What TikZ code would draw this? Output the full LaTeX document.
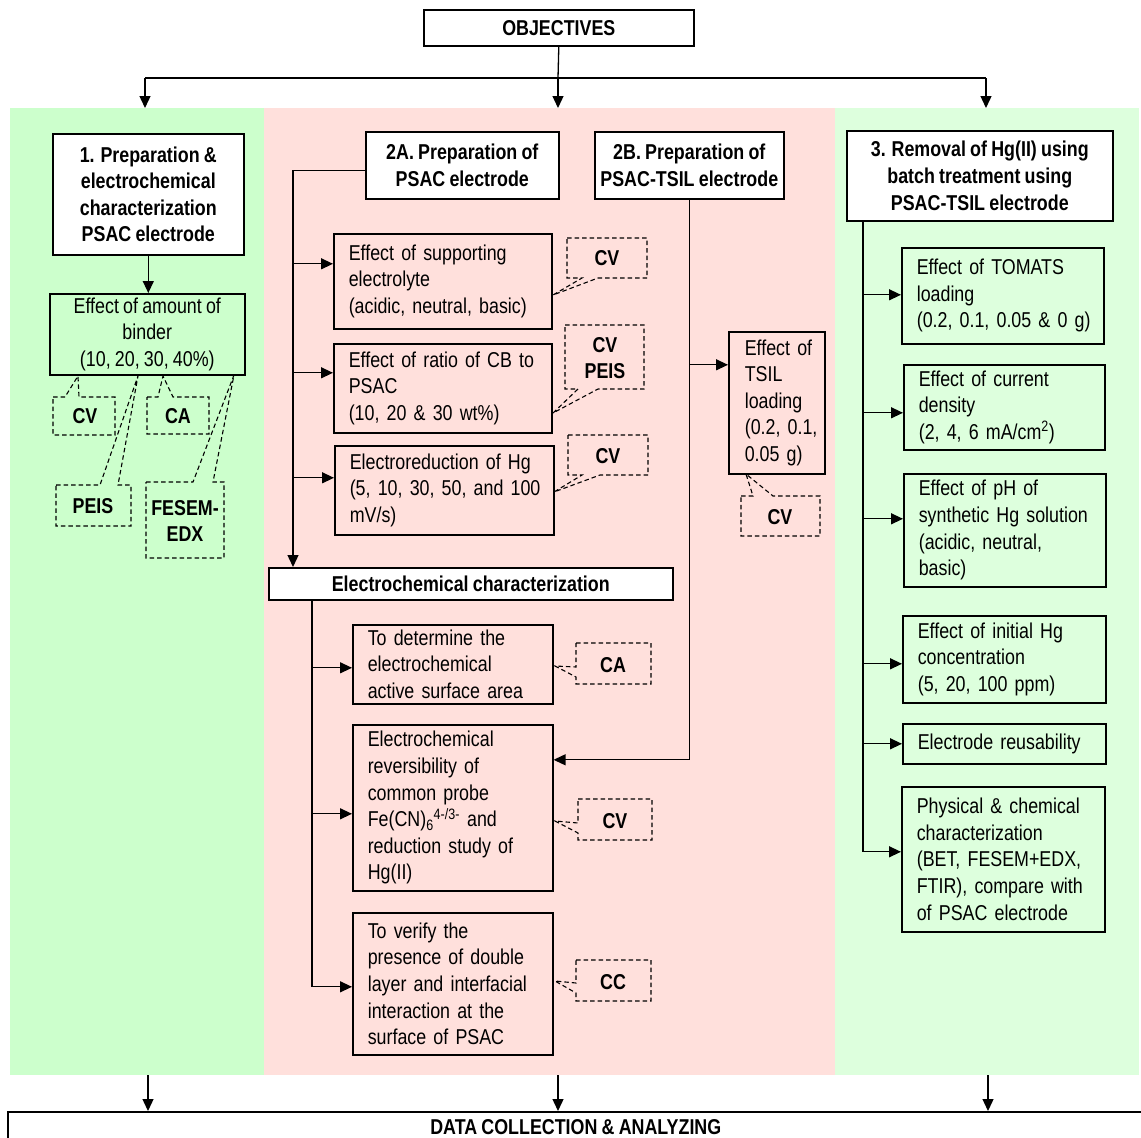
\documentclass[tikz,border=0pt]{standalone}
\usepackage{fontspec}
\setmainfont{Liberation Sans}[FakeStretch=0.83, WordSpace=0.85]
\usetikzlibrary{arrows.meta}
\definecolor{gL}{RGB}{204,255,204}
\definecolor{gR}{RGB}{221,255,221}
\definecolor{pk}{RGB}{255,224,220}
\newcommand\fsz{\fontsize{21.5pt}{26.6pt}\selectfont}
\newcommand\mlin[1]{\mbox{#1}}
\begin{document}
\begin{tikzpicture}[x=1pt,y=-1pt,
  panel/.style={anchor=north west, inner sep=0pt, draw=none},
  bx/.style={draw, line width=1.6pt, anchor=north west, inner sep=0pt, font=\fsz},
  hdr/.style={bx, fill=white, align=center, font=\fsz\bfseries},
  lbx/.style={bx, align=left},
  cbx/.style={bx, align=center},
  sz/.style 2 args={minimum width=#1pt, minimum height=#2pt},
  tw/.style={text width=#1pt},
  ln/.style={line width=1.3pt},
  arr/.style={ln, -{Triangle[length=12pt,width=11pt]}},
  co/.style={draw, line width=1.1pt, dash pattern=on 4.5pt off 3pt},
  cot/.style={font=\fsz\bfseries, align=center, inner sep=0pt},
]
\useasboundingbox (0,0) rectangle (1141,1138);
\fill[white] (0,0) rectangle (1141,1138);
% panels
\node[panel, fill=gL, sz={254}{967}] (pL) at (10,108) {};
\node[panel, fill=pk, sz={571}{967}] (pM) at (264,108) {};
\node[panel, fill=gR, sz={304}{967}] (pR) at (835,108) {};
% headers
\node[hdr, sz={270}{36}] (obj) at (423,9) {OBJECTIVES};
\node[hdr, sz={191}{121}] (b1) at (52,133) {1. Preparation \&\\electrochemical\\characterization\\PSAC electrode};
\node[cbx, fill=gL, sz={195}{81}] (bind) at (49,293) {Effect of amount of\\binder\\(10, 20, 30, 40\%)};
\node[hdr, sz={193}{67}] (a2) at (365,131) {2A. Preparation of\\PSAC electrode};
\node[hdr, sz={189}{67}] (b2) at (594,131) {2B. Preparation of\\PSAC-TSIL electrode};
\node[hdr, sz={266}{90}] (b3) at (846,130) {3. Removal of Hg(II) using\\batch treatment using\\PSAC-TSIL electrode};
% middle column
\node[lbx, fill=pk, sz={218}{95}, tw=188] (sup) at (333,233) {\mlin{Effect of supporting}\\\mlin{electrolyte}\\\mlin{(acidic, neutral, basic)}};
\node[lbx, fill=pk, sz={218}{89}, tw=188] (cb) at (333,343) {\mlin{Effect of ratio of CB to}\\\mlin{PSAC}\\\mlin{(10, 20 \& 30 wt\%)}};
\node[lbx, fill=pk, sz={219}{89}, tw=189] (er) at (334,445) {\mlin{Electroreduction of Hg}\\\mlin{(5, 10, 30, 50, and 100}\\\mlin{mV/s)}};
\node[lbx, fill=pk, sz={96}{142}, tw=64] (tsil) at (728,331) {\mlin{Effect of}\\\mlin{TSIL}\\\mlin{loading}\\\mlin{(0.2, 0.1,}\\\mlin{0.05 g)}};
\node[hdr, sz={404}{32}] (ec) at (268,567) {Electrochemical characterization};
\node[lbx, fill=pk, sz={200}{79}, tw=170] (det) at (352,624) {\mlin{To determine the}\\\mlin{electrochemical}\\\mlin{active surface area}};
\node[lbx, fill=pk, sz={200}{166}, tw=170] (rev) at (352,724) {\mlin{Electrochemical}\\\mlin{reversibility of}\\\mlin{common probe}\\\mlin{Fe(CN)\textsubscript{6}\textsuperscript{4-/3-} and}\\\mlin{reduction study of}\\\mlin{Hg(II)}};
\node[lbx, fill=pk, sz={200}{142}, tw=170] (ver) at (352,912) {\mlin{To verify the}\\\mlin{presence of double}\\\mlin{layer and interfacial}\\\mlin{interaction at the}\\\mlin{surface of PSAC}};
% right column
\node[lbx, fill=gR, sz={202}{96}, tw=172] (tom) at (901,247) {\mlin{Effect of TOMATS}\\\mlin{loading}\\\mlin{(0.2, 0.1, 0.05 \& 0 g)}};
\node[lbx, fill=gR, sz={201}{85}, tw=171] (cur) at (903,364) {\mlin{Effect of current}\\\mlin{density}\\\mlin{(2, 4, 6 mA/cm\textsuperscript{2})}};
\node[lbx, fill=gR, sz={202}{113}, tw=172] (ph) at (903,473) {\mlin{Effect of pH of}\\\mlin{synthetic Hg solution}\\\mlin{(acidic, neutral,}\\\mlin{basic)}};
\node[lbx, fill=gR, sz={203}{87}, tw=173] (ini) at (902,615) {\mlin{Effect of initial Hg}\\\mlin{concentration}\\\mlin{(5, 20, 100 ppm)}};
\node[lbx, fill=gR, sz={203}{40}, tw=173] (reu) at (902,723) {\mlin{Electrode reusability}};
\node[lbx, fill=gR, sz={203}{145}, tw=173] (phy) at (901,786) {\mlin{Physical \& chemical}\\\mlin{characterization}\\\mlin{(BET, FESEM+EDX,}\\\mlin{FTIR), compare with}\\\mlin{of PSAC electrode}};
% bottom
\node[hdr, sz={1136}{30}] (data) at (7,1111) {DATA COLLECTION \& ANALYZING};
% callout texts
\node[cot] (c1) at (85,416) {CV};
\node[cot] (c2) at (178,416) {CA};
\node[cot] (c3) at (93,506) {PEIS};
\node[cot] (c4) at (185,521) {FESEM-\\EDX};
\node[cot] (c5) at (607,258) {CV};
\node[cot] (c6) at (605,358) {CV\\PEIS};
\node[cot] (c7) at (608,456) {CV};
\node[cot] (c8) at (780,517) {CV};
\node[cot] (c9) at (613,665) {CA};
\node[cot] (c10) at (615,821) {CV};
\node[cot] (c11) at (613,982) {CC};
% callout outlines
\draw[co] (53,397) -- (65,397) -- (78,376) -- (79,397) -- (115,397) -- (115,435) -- (53,435) -- cycle;
\draw[co] (147,397) -- (158,397) -- (163,376) -- (173,397) -- (209,397) -- (209,434) -- (147,434) -- cycle;
\draw[co] (56,485) -- (100,485) -- (138,376) -- (118,485) -- (131,485) -- (131,526) -- (56,526) -- cycle;
\draw[co] (146,482) -- (193,482) -- (234,375) -- (213,482) -- (224,482) -- (224,558) -- (146,558) -- cycle;
\draw[co] (567,238) -- (647,238) -- (647,278) -- (598,278) -- (553,295) -- (582,278) -- (567,278) -- cycle;
\draw[co] (565,325) -- (644,325) -- (644,389) -- (598,389) -- (553,413) -- (578,389) -- (565,389) -- cycle;
\draw[co] (568,435) -- (648,435) -- (648,475) -- (600,475) -- (554,492) -- (582,475) -- (568,475) -- cycle;
\draw[co] (741,496) -- (753,496) -- (746,474) -- (773,496) -- (820,496) -- (820,536) -- (741,536) -- cycle;
\draw[co] (576,643) -- (651,643) -- (651,684) -- (576,684) -- (576,677) -- (555,666) -- (576,667) -- cycle;
\draw[co] (578,799) -- (652,799) -- (652,840) -- (578,840) -- (578,833) -- (555,821) -- (578,823) -- cycle;
\draw[co] (576,960) -- (651,960) -- (651,1001) -- (576,1001) -- (576,993) -- (555,981) -- (576,983) -- cycle;
% top connectors
\coordinate (sL) at (145,78);
\coordinate (sM) at (558,78);
\coordinate (sR) at (986,78);
\draw[ln] (obj.south) -- (sM);
\draw[ln] (sL) -- (sR);
\draw[arr] (sL) -- (sL |- pL.north);
\draw[arr] (sM) -- (sM |- pM.north);
\draw[arr] (sR) -- (sR |- pR.north);
\draw[arr] (b1.south) -- (b1.south |- bind.north);
% 2A spine
\coordinate (ax) at (293,0);
\coordinate (a2o) at ([yshift=-5.5pt]a2.west);
\draw[arr] (a2o) -| (ax |- ec.north);
\coordinate (supi) at ([yshift=17.5pt]sup.west);
\coordinate (cbi) at ([yshift=15.5pt]cb.west);
\coordinate (eri) at ([yshift=12.5pt]er.west);
\draw[arr] (ax |- supi) -- (supi);
\draw[arr] (ax |- cbi) -- (cbi);
\draw[arr] (ax |- eri) -- (eri);
% 2B spine
\coordinate (tsi) at ([yshift=38pt]tsil.west);
\coordinate (revr) at ([yshift=48pt]rev.east);
\draw[arr] (b2.south) |- (revr);
\draw[arr] (b2.south |- tsi) -- (tsi);
% EC spine
\coordinate (ex) at (312,0);
\coordinate (deti) at ([yshift=-3.5pt]det.west);
\coordinate (revi) at ([yshift=-6pt]rev.west);
\coordinate (veri) at ([yshift=-3pt]ver.west);
\draw[arr] (ex |- ec.south) |- (veri);
\draw[arr] (ex |- deti) -- (deti);
\draw[arr] (ex |- revi) -- (revi);
% right spine
\coordinate (rx) at (863,0);
\coordinate (tomi) at ([yshift=1pt]tom.west);
\coordinate (curi) at ([yshift=-5.5pt]cur.west);
\coordinate (phi) at ([yshift=11.5pt]ph.west);
\coordinate (inii) at ([yshift=-4.5pt]ini.west);
\coordinate (reui) at (reu.west);
\coordinate (phyi) at ([yshift=7.5pt]phy.west);
\draw[arr] (rx |- b3.south) |- (phyi);
\draw[arr] (rx |- tomi) -- (tomi);
\draw[arr] (rx |- curi) -- (curi);
\draw[arr] (rx |- phi) -- (phi);
\draw[arr] (rx |- inii) -- (inii);
\draw[arr] (rx |- reui) -- (reui);
% bottom connectors
\coordinate (o1) at (148,0);
\coordinate (o2) at (558,0);
\coordinate (o3) at (988,0);
\draw[arr] (o1 |- pL.south) -- (o1 |- data.north);
\draw[arr] (o2 |- pM.south) -- (o2 |- data.north);
\draw[arr] (o3 |- pR.south) -- (o3 |- data.north);
\end{tikzpicture}
\end{document}
